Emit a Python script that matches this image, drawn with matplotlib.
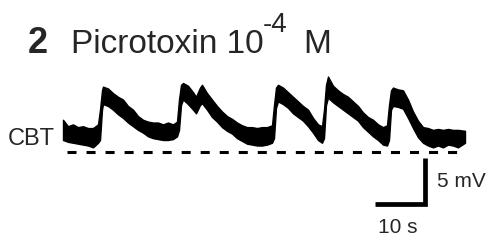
import numpy as np
import matplotlib
matplotlib.use('Agg')
import matplotlib.pyplot as plt

plt.rcParams['font.family'] = ['Liberation Sans', 'DejaVu Sans']
plt.rcParams['lines.scale_dashes'] = False

# membrane potential trace (CBT), picrotoxin 1e-4 M
# time in s, upper / lower edge of the noisy trace in mV above the dashed reference
t = [0, 1, 2, 3, 4, 5, 6, 7, 7.4, 7.8, 8, 9, 10, 11, 12, 13, 14, 15, 16, 17,
     18, 19, 20, 21, 22, 22.8, 23.2, 23.6, 24, 25, 26, 26.6, 27.4, 27.8, 28.8, 29.8, 30.8, 31.8, 32.8, 33.8,
     34.8, 35.8, 36.8, 37.8, 38.8, 39.8, 40.8, 41.8, 42.2, 42.6, 43, 44, 45, 46, 47, 48,
     49, 50, 51, 51.8, 52.2, 52.6, 53, 54, 55, 56, 57, 58, 59, 60, 61, 62,
     63, 64, 64.8, 65.2, 65.6, 66, 67, 68, 69, 70, 71, 72, 73, 74, 75, 76,
     77, 78, 79, 80.4]
v_hi = [3.5, 2.8, 3.0, 2.7, 2.8, 2.6, 2.6, 3.0, 4.6, 6.7, 7.1, 6.9, 6.4, 6.0, 5.7, 5.0, 4.6, 3.9, 3.5, 3.3,
        3.2, 3.2, 3.0, 3.2, 3.0, 3.3, 5.7, 7.3, 7.5, 7.2, 6.5, 6.0, 7.0, 7.3, 6.4, 5.7, 5.0, 4.4, 3.9, 3.6,
        3.2, 2.9, 2.7, 2.7, 2.6, 2.7, 2.7, 2.9, 5.1, 7.0, 7.3, 7.0, 6.5, 6.0, 5.5, 5.0,
        4.6, 3.7, 3.0, 2.8, 4.6, 7.3, 8.2, 7.2, 6.7, 6.3, 6.0, 5.5, 5.0, 4.3, 3.8, 3.5,
        3.0, 2.7, 2.9, 5.1, 6.7, 7.0, 6.8, 6.7, 5.7, 4.4, 3.4, 2.7, 2.6, 2.4, 2.5, 2.4,
        2.5, 2.4, 2.4, 2.3]
v_lo = [1.3, 1.1, 1.0, 0.9, 0.8, 0.7, 0.5, 1.0, 1.3, 4.6, 5.2, 5.0, 4.6, 4.1, 3.7, 3.2, 2.8, 2.4, 2.1, 1.7,
        1.5, 1.4, 1.3, 1.3, 1.4, 1.7, 2.4, 5.1, 5.7, 5.2, 4.6, 4.2, 5.1, 5.3, 4.6, 3.8, 3.3, 2.7, 2.3, 2.0,
        1.5, 1.2, 0.9, 0.8, 0.7, 0.7, 0.8, 1.0, 1.5, 4.8, 5.5, 5.2, 4.8, 4.2, 3.8, 3.4,
        2.8, 2.1, 1.3, 1.0, 1.5, 5.1, 5.9, 5.4, 5.0, 4.6, 4.2, 3.8, 3.4, 2.7, 2.2, 1.7,
        1.3, 0.8, 0.7, 1.3, 4.6, 5.0, 4.9, 4.7, 3.7, 2.6, 1.6, 1.0, 0.7, 0.5, 0.7, 0.5,
        0.8, 0.7, 0.5, 1.0]

ref_start, ref_end = 0.8, 79.8   # dashed reference line (s)
bar_t, bar_v = 10, 5             # scale bar: 10 s, 5 mV
bar_corner = (72.3, -5.7)

fig = plt.figure(figsize=(4.97, 2.40), dpi=100)
ax = fig.add_axes([0, 0, 1, 1])
ax.set_xlim(-12.6, 86.8)
ax.set_ylim(-9.57, 16.52)
ax.axis('off')

ax.fill_between(t, v_lo, v_hi, color='black', linewidth=1.0, edgecolor='black')

ax.plot([ref_start, ref_end], [0, 0], color='black', linewidth=2.2,
        dashes=(6.5, 7.2), solid_capstyle='butt', dash_capstyle='butt')

cx, cy = bar_corner
ax.plot([cx - bar_t, cx, cx], [cy, cy, cy + bar_v], color='black', linewidth=3.4,
        solid_joinstyle='miter', solid_capstyle='butt')

txt = '#262626'
W, H = 497, 240
def put(x, y, s, **kw):
    fig.text(x / W, 1 - y / H, s, color=txt, va='baseline', **kw)

put(28, 53, '2', fontsize=26, fontweight='bold')
put(71, 53, 'Picrotoxin 10', fontsize=24)
put(263, 32, '-4', fontsize=20)
put(303, 53, 'M', fontsize=24)
put(55, 145, 'CBT', fontsize=17, ha='right')
put(437, 187, '5 mV', fontsize=15)
put(378, 233, '10 s', fontsize=15)

fig.savefig('out.png', dpi=100)
